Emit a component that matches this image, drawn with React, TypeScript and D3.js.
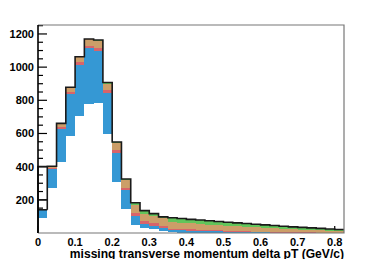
import * as d3 from "d3";
import React, { useRef, useEffect } from "react";

// bin lower edges, width 0.025 GeV/c
const binWidth = 0.025;
const binLow = d3.range(33).map(i => +(i * binWidth).toFixed(3));

// stacked components per bin (bottom -> top)
const base = [92, 270, 430, 585, 705, 780, 785, 595, 308, 146, 51, 31, 25, 15,
  4, 3, 3, 2, 2, 2, 1, 1, 1, 1, 0, 0, 0, 0, 0, 0, 0, 0, 0];
const blue = [48, 118, 198, 254, 308, 334, 313, 248, 174, 111, 54, 26, 20, 15,
  14, 13, 11, 10, 9, 8, 7, 6, 5, 4, 4, 3, 3, 2, 2, 2, 1, 1, 1];
const red = [0, 6, 12, 14, 20, 16, 16, 20, 16, 15, 16, 14, 16, 13,
  9, 8, 8, 7, 7, 6, 6, 5, 5, 4, 4, 3, 3, 3, 2, 2, 2, 2, 1];
const tan = [0, 6, 18, 23, 29, 38, 46, 34, 45, 50, 50, 46, 44, 46,
  40, 38, 36, 35, 33, 31, 29, 28, 26, 25, 23, 22, 19, 17, 16, 14, 13, 11, 10];
const green = [0, 2, 3, 3, 1, 2, 4, 10, 6, 4, 11, 18, 12, 8,
  25, 25, 24, 24, 23, 22, 22, 21, 20, 19, 18, 17, 16, 15, 14, 13, 12, 10, 9];

// outline histogram (first bin differs from the stack)
const firstBinOutline = 400;
const firstBinInner = [200];

const yTicks = [200, 400, 600, 800, 1000, 1200];
const xTicks = [0, 0.1, 0.2, 0.3, 0.4, 0.5, 0.6, 0.7, 0.8];

const keys = ["base", "blue", "red", "tan", "green"];
const colors = {
  base: "#ffffff",
  blue: "#3598d4",
  red: "#d8646a",
  tan: "#cc9e68",
  green: "#62c45a",
};

const App = () => {
  const ref = useRef();
  const W = 382, H = 259;
  const margin = { top: 25, right: 38, bottom: 26, left: 38 };

  useEffect(() => {
    const svg = d3.select(ref.current);
    svg.selectAll("*").remove();

    const x = d3.scaleLinear().domain([0, 0.825]).range([margin.left, W - margin.right]);
    const y = d3.scaleLinear().domain([0, 1254]).range([H - margin.bottom, margin.top]);

    const table = binLow.map((lo, i) => ({
      lo, base: base[i], blue: blue[i], red: red[i], tan: tan[i], green: green[i],
    }));
    const series = d3.stack().keys(keys)(table);
    const totals = table.map(d => d.base + d.blue + d.red + d.tan + d.green);
    const outline = totals.map((t, i) => (i === 0 ? firstBinOutline : t));

    const font = "'Liberation Sans', Arial, sans-serif";

    // axis ticks (drawn behind the histogram)
    const yMinor = d3.range(50, 1254, 50);
    svg.append("g").selectAll("line").data(yMinor).join("line")
      .attr("x1", x(0)).attr("x2", d => x(0) + (d % 200 === 0 ? 9 : 5))
      .attr("y1", d => y(d)).attr("y2", d => y(d))
      .attr("stroke", "#000").attr("stroke-width", 1.2);

    const xMinor = d3.range(0.02, 0.825, 0.02);
    svg.append("g").selectAll("line").data(xMinor).join("line")
      .attr("x1", d => x(d)).attr("x2", d => x(d))
      .attr("y1", y(0)).attr("y2", y(0) - 3.5)
      .attr("stroke", "#000").attr("stroke-width", 1);
    svg.append("g").selectAll("line").data(xTicks).join("line")
      .attr("x1", d => x(d)).attr("x2", d => x(d))
      .attr("y1", y(0)).attr("y2", y(0) - 7)
      .attr("stroke", "#000").attr("stroke-width", 1.2);

    // stacked bars
    series.forEach(s => {
      svg.append("g").selectAll("rect").data(s).join("rect")
        .attr("x", d => x(d.data.lo))
        .attr("width", x(binWidth) - x(0))
        .attr("y", d => y(d[1]))
        .attr("height", d => Math.max(0, y(d[0]) - y(d[1])))
        .attr("fill", colors[s.key])
        .attr("shape-rendering", "crispEdges");
    });

    // outline step path
    let p = `M${x(0)},${y(0)}`;
    outline.forEach((v, i) => {
      p += `V${y(v)}H${x(binLow[i] + binWidth)}`;
    });
    svg.append("path").attr("d", p)
      .attr("fill", "none").attr("stroke", "#1a1a1a").attr("stroke-width", 1.6);

    // first bin: stack top and inner line
    [totals[0], ...firstBinInner].forEach(v => {
      svg.append("line")
        .attr("x1", x(0)).attr("x2", x(binWidth))
        .attr("y1", y(v)).attr("y2", y(v))
        .attr("stroke", "#1a1a1a").attr("stroke-width", 1.6);
    });
    svg.append("line")
      .attr("x1", x(binWidth)).attr("x2", x(binWidth))
      .attr("y1", y(totals[0])).attr("y2", y(firstBinOutline))
      .attr("stroke", "#1a1a1a").attr("stroke-width", 1.6);

    // frame
    svg.append("path")
      .attr("d", `M${x(0)},${y(0)}H${x(0.825)}V${margin.top}H${x(0)}`)
      .attr("fill", "none").attr("stroke", "#777").attr("stroke-width", 1.2);
    svg.append("line")
      .attr("x1", x(0)).attr("x2", x(0)).attr("y1", y(0)).attr("y2", margin.top)
      .attr("stroke", "#000").attr("stroke-width", 1.6);

    // labels
    svg.append("g").selectAll("text").data(yTicks).join("text")
      .attr("x", x(0) - 4).attr("y", d => y(d)).attr("dy", "0.35em")
      .attr("text-anchor", "end").attr("font-family", font)
      .attr("font-weight", "bold").attr("font-size", 11)
      .text(d => d);

    svg.append("g").selectAll("text").data(xTicks).join("text")
      .attr("x", d => x(d)).attr("y", 246)
      .attr("text-anchor", "middle").attr("font-family", font)
      .attr("font-weight", "bold").attr("font-size", 11)
      .text(d => d);

    svg.append("text")
      .attr("x", x(0.825)).attr("y", 257.5)
      .attr("text-anchor", "end").attr("font-family", font)
      .attr("font-weight", "bold").attr("font-size", 12.1)
      .text("missing transverse momentum delta pT (GeV/c)");
  }, []);

  return (
    <svg ref={ref} width={W} height={H}
      style={{ position: "absolute", left: 0, top: 0, background: "#fff" }} />
  );
};

export default App;
